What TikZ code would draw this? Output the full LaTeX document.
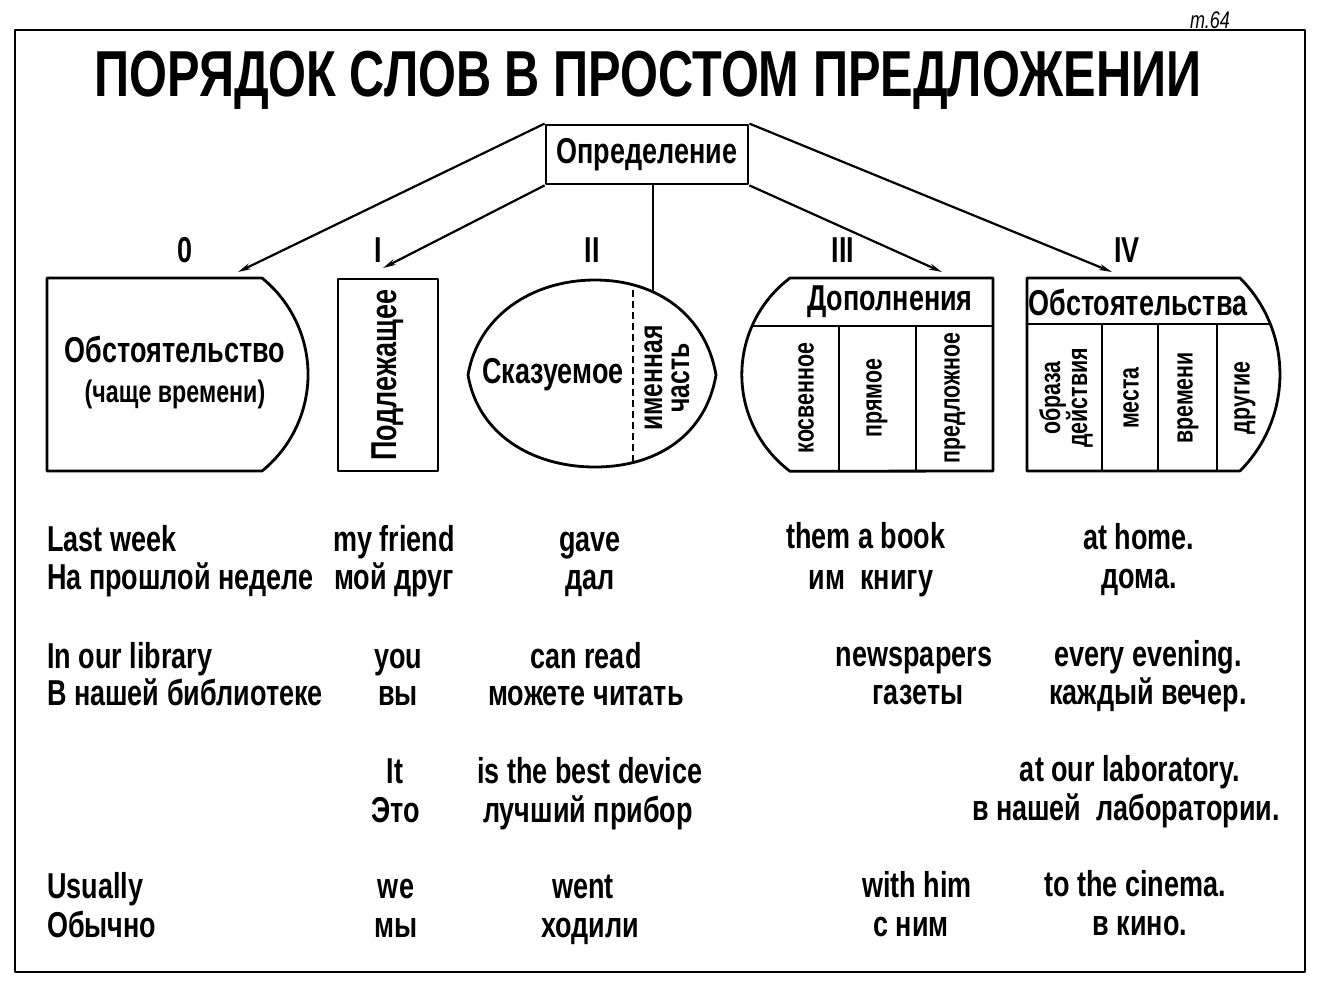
\documentclass[tikz,border=0pt]{standalone}
\usepackage{fontspec}
\setmainfont{Liberation Sans}[FakeStretch=0.75]
\usetikzlibrary{arrows.meta}
\begin{document}
\begin{tikzpicture}[x=1pt,y=-1pt,
  line join=round,
  frame/.style={line width=2.4pt},
  outl/.style={line width=2.8pt},
  conn/.style={line width=2.2pt},
  arr/.style={conn,-{Stealth[length=13pt,width=6pt]}},
  M/.style={font=\fontsize{36}{40}\selectfont\bfseries, inner sep=0pt},
  P/.style={font=\fontsize{31}{35}\selectfont\bfseries, inner sep=0pt},
  S/.style={font=\fontsize{28.5}{32}\selectfont\bfseries, inner sep=0pt},
  row/.style={M, anchor=base},
  rowl/.style={M, anchor=base west},
  vert/.style={rotate=90, align=center},
]
\useasboundingbox (0,0) rectangle (1323,989);
\fill[white] (0,0) rectangle (1323,989);

% frame
\draw[frame] (15,30) rectangle (1305,972);
\node[font=\fontsize{24}{26}\selectfont\itshape, anchor=base, inner sep=0pt] (tnum) at (1210,28) {т.64};

% title
\node[font=\fontsize{65}{72}\selectfont\bfseries, inner sep=0pt] (title) at (648,80) {ПОРЯДОК СЛОВ В ПРОСТОМ ПРЕДЛОЖЕНИИ};

% definition box
\node[M, draw, outl, minimum width=202pt, minimum height=59pt] (def) at (647,154.5) {Определение};

% roman numerals
\node[M] (n0) at (185,250) {0};
\node[M] (n1) at (378,250) {I};
\node[M] (n2) at (592,250) {II};
\node[M] (n3) at (843,250) {III};
\node[M] (n4) at (1127,250) {IV};

% box 0
\draw[outl] (262,278) arc[start angle=-51, end angle=51, radius=124.2] -- (47,471) -- (47,278) -- cycle;
\node[M] (obst) at (175,349) {Обстоятельство};
\node[P] (obstsub) at (175,394) {(чаще времени)};

% box I
\draw[outl] (338,279) rectangle (438,471);
\node[M, vert] (podl) at (388,375) {Подлежащее};

% box II
\draw[outl] (468,375) .. controls (478,316) and (532,280) .. (595,280)
  .. controls (658,280) and (706,316) .. (716,375)
  .. controls (706,434) and (658,467) .. (595,467)
  .. controls (532,467) and (478,434) .. (468,375) -- cycle;
\draw[line width=2.2pt, dash pattern=on 7pt off 4pt] (633,290) -- (633,463);
\node[M] (skaz) at (553,375) {Сказуемое};
\node[P, vert, font=\fontsize{33}{30}\selectfont\bfseries] (imen) at (667,378) {именная\\[-3pt]часть};

% box III
\draw[outl] (993,278) -- (790,278) arc[start angle=233, end angle=127, radius=121] -- (993,471) -- cycle;
\draw[outl] (752,326) -- (993,326);
\draw[outl] (839,326) -- (839,471);
\draw[outl] (916,326) -- (916,471);
\node[M] (dop) at (890,302) {Дополнения};
\node[S, vert] (kosv) at (806,398) {косвенное};
\node[S, vert] (pryam) at (877,398) {прямое};
\node[S, vert] (pred) at (955,398) {предложное};

% box IV
\draw[outl] (1027,278) -- (1240,278) arc[start angle=-45, end angle=45, radius=136.4] -- (1027,471) -- cycle;
\draw[outl] (1027,324) -- (1270,324);
\draw[outl] (1102,324) -- (1102,471);
\draw[outl] (1158,324) -- (1158,471);
\draw[outl] (1217,324) -- (1217,471);
\node[M] (obsts) at (1138,302) {Обстоятельства};
\node[S, vert] (obr) at (1066,398) {образа\\[-5pt]действия};
\node[S, vert] (mest) at (1131,398) {места};
\node[S, vert] (vrem) at (1188,398) {времени};
\node[S, vert] (drug) at (1245,398) {другие};

% connectors
\coordinate (c0) at (238,272);
\coordinate (c1) at (383,268);
\coordinate (c2) at (653,291);
\coordinate (c3) at (942,272);
\coordinate (c4) at (1112,272);
\draw[arr] (def.north west) -- (c0);
\draw[arr] (def.south west) -- (c1);
\draw[conn] (def.south -| c2) -- (c2);
\draw[arr] (def.south east) -- (c3);
\draw[arr] (def.north east) -- (c4);

% row 1
\node[rowl] (e11) at (47,551) {Last week};
\node[rowl] (r11) at (47,589) {На прошлой неделе};
\node[row] (e12) at (394,551) {my friend};
\node[row] (r12) at (394,589) {мой друг};
\node[row] (e13) at (590,551) {gave};
\node[row] (r13) at (590,589) {дал};
\node[row] (e14) at (866,548) {them a book};
\node[row] (r14) at (871,589) {им\ \ книгу};
\node[row] (e15) at (1139,549) {at home.};
\node[row] (r15) at (1139,588) {дома.};

% row 2
\node[rowl] (e21) at (47,668) {In our library};
\node[rowl] (r21) at (47,705) {В нашей библиотеке};
\node[row] (e22) at (398,668) {you};
\node[row] (r22) at (398,705) {вы};
\node[row] (e23) at (586,668) {can read};
\node[row] (r23) at (586,705) {можете читать};
\node[row] (e24) at (914,666) {newspapers};
\node[row] (r24) at (918,704) {газеты};
\node[row] (e25) at (1148,666) {every evening.};
\node[row] (r25) at (1148,704) {каждый вечер.};

% row 3
\node[row] (e32) at (395,783) {It};
\node[row] (r32) at (396,822) {Это};
\node[row] (e33) at (590,783) {is the best device};
\node[row] (r33) at (588,822) {лучший прибор};
\node[row] (e35) at (1130,781) {at our laboratory.};
\node[row] (r35) at (1126,820) {в нашей\ \ лаборатории.};

% row 4
\node[rowl] (e41) at (47,898) {Usually};
\node[rowl] (r41) at (47,937) {Обычно};
\node[row] (e42) at (396,898) {we};
\node[row] (r42) at (396,937) {мы};
\node[row] (e43) at (583,898) {went};
\node[row] (r43) at (590,937) {ходили};
\node[row] (e44) at (917,897) {with him};
\node[row] (r44) at (911,936) {с ним};
\node[row] (e45) at (1135,896) {to the cinema.};
\node[row] (r45) at (1140,935) {в кино.};
\end{tikzpicture}
\end{document}
